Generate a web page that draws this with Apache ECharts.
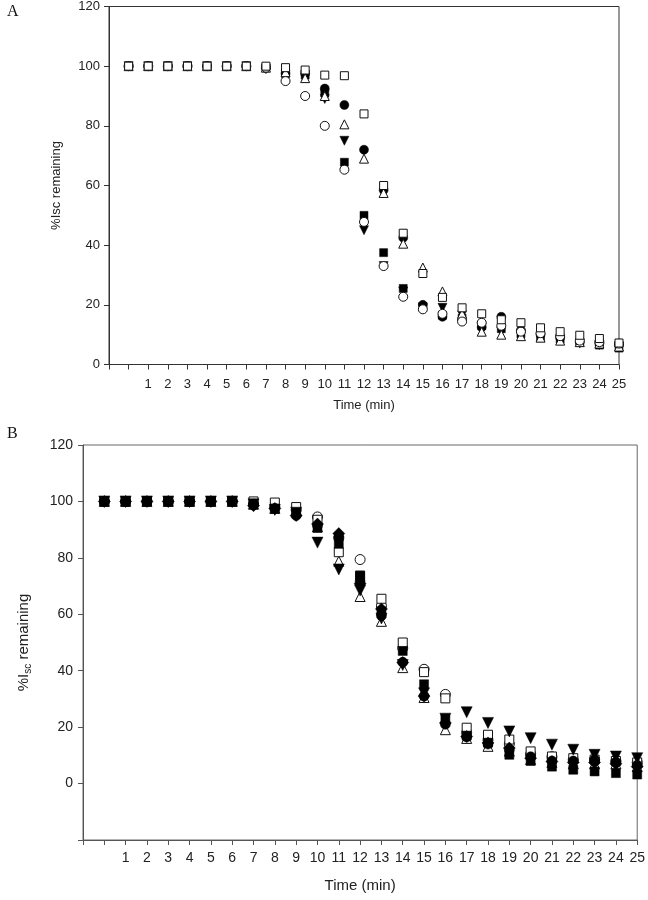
<!DOCTYPE html>
<html>
<head>
<meta charset="utf-8">
<script src="https://cdn.jsdelivr.net/npm/echarts@6/dist/echarts.min.js"></script>
<style>
html,body{margin:0;padding:0;background:#fff;}
#c{width:648px;height:900px;}
</style>
</head>
<body>
<div id="c"></div>
<script>
// ---- data ----
var time = [0,1,2,3,4,5,6,7,8,9,10,11,12,13,14,15,16,17,18,19,20,21,22,23,24,25];

// Panel A (%Isc remaining)
var aFilledCircle   = [100,100,100,100,100,100,100,99.5,97.5,97.5,92.5,87,72,58.5,42.5,20,16,15,12.5,16,11.5,10,9,7.5,7,6.5];
var aOpenCircle     = [100,100,100,100,100,100,100,99.5,95,90,80,65.3,47.8,33,22.7,18.5,17,14.4,14,13,11,10.5,9.5,8,7.5,7];
var aFilledTriangle = [100,100,100,100,100,100,100,99,97,97,89,75,45,33,24.5,19,19,16.5,12.5,11,10,9,8,7,6.5,6];
var aOpenTriangle   = [100,100,100,100,100,100,100,99.5,98,96,90,80.5,69,57.5,40.5,32.5,24.5,17,11,10,9.5,9,8,7.5,7,6];
var aFilledSquare   = [100,100,100,100,100,100,100,99.5,97.5,97,91,67.8,50,37.5,25.5,19.5,16.5,15.5,13,12,10.3,9,8.5,7.5,6.5,5.5];
var aOpenSquare     = [100,100,100,100,100,100,100,100,99.5,98.7,97,96.8,84,60,44,30.5,22.5,19,17,15,14,12.3,11,9.8,8.7,7.2];

// Panel B (%I_sc remaining)
var bFilledCircle   = [100,100,100,100,100,100,100,99,97.5,95,91.5,87.5,71.5,59.5,43,31,21,16.5,14,12,9.5,8,8,8.4,7.6,6.5];
var bOpenCircle     = [100,100,100,100,100,100,100,99,98,97,94.5,87,79.4,63,48,40.5,31.6,18,15.5,14,10.5,9.5,8.5,8.5,8,7.5];
var bFilledTriangle = [100,100,100,100,100,100,100,99,97,96,85.4,75.9,68.4,58.5,42,32,23,25.3,21.5,18.5,16.1,13.8,12,10.2,9.6,9];
var bOpenTriangle   = [100,100,100,100,100,100,100,99,97.5,96.5,91,78.8,66.3,57.5,41.1,30.5,19.1,16,13.2,11.5,8.5,7.5,7,7,7,6];
var bFilledSquare   = [100,100,100,100,100,100,100,99,97.5,96,90.6,85,73.7,61,47,35.2,22.7,17,14.5,10.2,8,6,4.9,4.3,3.7,3.2];
var bOpenSquare     = [100,100,100,100,100,100,100,100,99.6,98,93.5,82,73.7,65.5,50,39.5,30.2,19.8,17.3,15.6,11.4,9.6,9,8.5,8,7.5];
var bFilledDiamond  = [100,100,100,100,100,100,100,98.5,97.5,95,92,88.6,70.8,61.9,42.9,31,21.5,16.7,14.4,12.6,9,7.8,7.5,7.5,7,6];

function pairs(v){ return time.map(function(t,i){ return [t, v[i]]; }); }

var FONT = 'Arial';

function mk(grid, vals, shape, filled, size, rot, z){
  return {
    type:'scatter', xAxisIndex:grid, yAxisIndex:grid,
    data: pairs(vals), symbol: shape, symbolSize: size, symbolRotate: rot||0,
    itemStyle: filled ? {color:'#000', borderColor:'#000', borderWidth:0.5, opacity:1}
                      : {color:'#fff', borderColor:'#111', borderWidth:1, opacity:1},
    emphasis:{disabled:true}, silent:true, z: z
  };
}

function xAx(grid, fs, lineColor, gap, nameFs, margin){
  return {
    gridIndex:grid, type:'value', min:-1, max:25, interval:1,
    axisLine:{show:true, onZero:false, lineStyle:{color:lineColor, width:1}},
    axisTick:{show:true, inside:false, length:5, lineStyle:{color:lineColor}},
    axisLabel:{color:'#222', fontSize:fs, fontFamily:FONT, margin:margin,
      formatter:function(v){ return v < 1 ? '' : String(v); }},
    splitLine:{show:false},
    name:'Time (min)', nameLocation:'middle', nameGap:gap,
    nameTextStyle:{color:'#222', fontSize:nameFs, fontFamily:FONT}
  };
}

var chart = echarts.init(document.getElementById('c'), null, {renderer:'canvas'});
chart.setOption({
  animation:false,
  backgroundColor:'#fff',
  grid:[
    {left:109, top:4.5, width:510, height:360, show:true, borderColor:'#333', borderWidth:1, backgroundColor:'transparent'},
    {left:83, top:445, width:557, height:395, show:true, borderColor:'#666', borderWidth:1, backgroundColor:'transparent'}
  ],
  xAxis:[ xAx(0, 13, '#333', 34, 13, 13), xAx(1, 14, '#555', 38, 15, 11) ],
  yAxis:[
    {gridIndex:0, type:'value', min:0, max:120, interval:20,
     axisLine:{show:true, onZero:false, lineStyle:{color:'#333'}},
     axisTick:{show:true, length:5, lineStyle:{color:'#333'}},
     axisLabel:{color:'#222', fontSize:13, fontFamily:FONT, margin:9},
     splitLine:{show:false},
     name:'%Isc remaining', nameLocation:'middle', nameGap:46, nameRotate:90,
     nameTextStyle:{color:'#222', fontSize:13, fontFamily:FONT}},
    {gridIndex:1, type:'value', min:-20, max:120, interval:20,
     axisLine:{show:true, onZero:false, lineStyle:{color:'#555'}},
     axisTick:{show:true, length:5, lineStyle:{color:'#555'}},
     axisLabel:{color:'#222', fontSize:14, fontFamily:FONT, margin:10,
       formatter:function(v){ return v < 0 ? '' : String(v); }},
     splitLine:{show:false},
     name:'{a|%I}{s|sc}{a| remaining}', nameLocation:'middle', nameGap:50, nameRotate:90,
     nameTextStyle:{color:'#222', fontSize:15, fontFamily:FONT,
       rich:{a:{fontSize:15, fontFamily:FONT, color:'#222'},
             s:{fontSize:10, fontFamily:FONT, color:'#222', padding:[8,0,0,0]}}}}
  ],
  graphic:[
    {type:'text', left:7, top:4, style:{text:'A', font:'16px "Liberation Serif", "Times New Roman", serif', fill:'#111'}},
    {type:'text', left:7, top:426, style:{text:'B', font:'16px "Liberation Serif", "Times New Roman", serif', fill:'#111'}}
  ],
  series:[
    mk(0, aFilledCircle, 'circle', true, 9, 0, 2),
    mk(0, aFilledTriangle, 'triangle', true, 9, 180, 2),
    mk(0, aFilledSquare, 'rect', true, 8, 0, 2),
    mk(0, aOpenTriangle, 'triangle', false, 9, 0, 3),
    mk(0, aOpenCircle, 'circle', false, 9, 0, 3),
    mk(0, aOpenSquare, 'rect', false, 8, 0, 3),

    mk(1, bOpenTriangle, 'triangle', false, 10, 0, 2),
    mk(1, bOpenCircle, 'circle', false, 10, 0, 2),
    mk(1, bOpenSquare, 'rect', false, 9, 0, 2),
    mk(1, bFilledDiamond, 'diamond', true, 12, 0, 3),
    mk(1, bFilledCircle, 'circle', true, 10, 0, 3),
    mk(1, bFilledTriangle, 'triangle', true, 11, 180, 3),
    mk(1, bFilledSquare, 'rect', true, 9, 0, 3)
  ]
});
</script>
</body>
</html>
